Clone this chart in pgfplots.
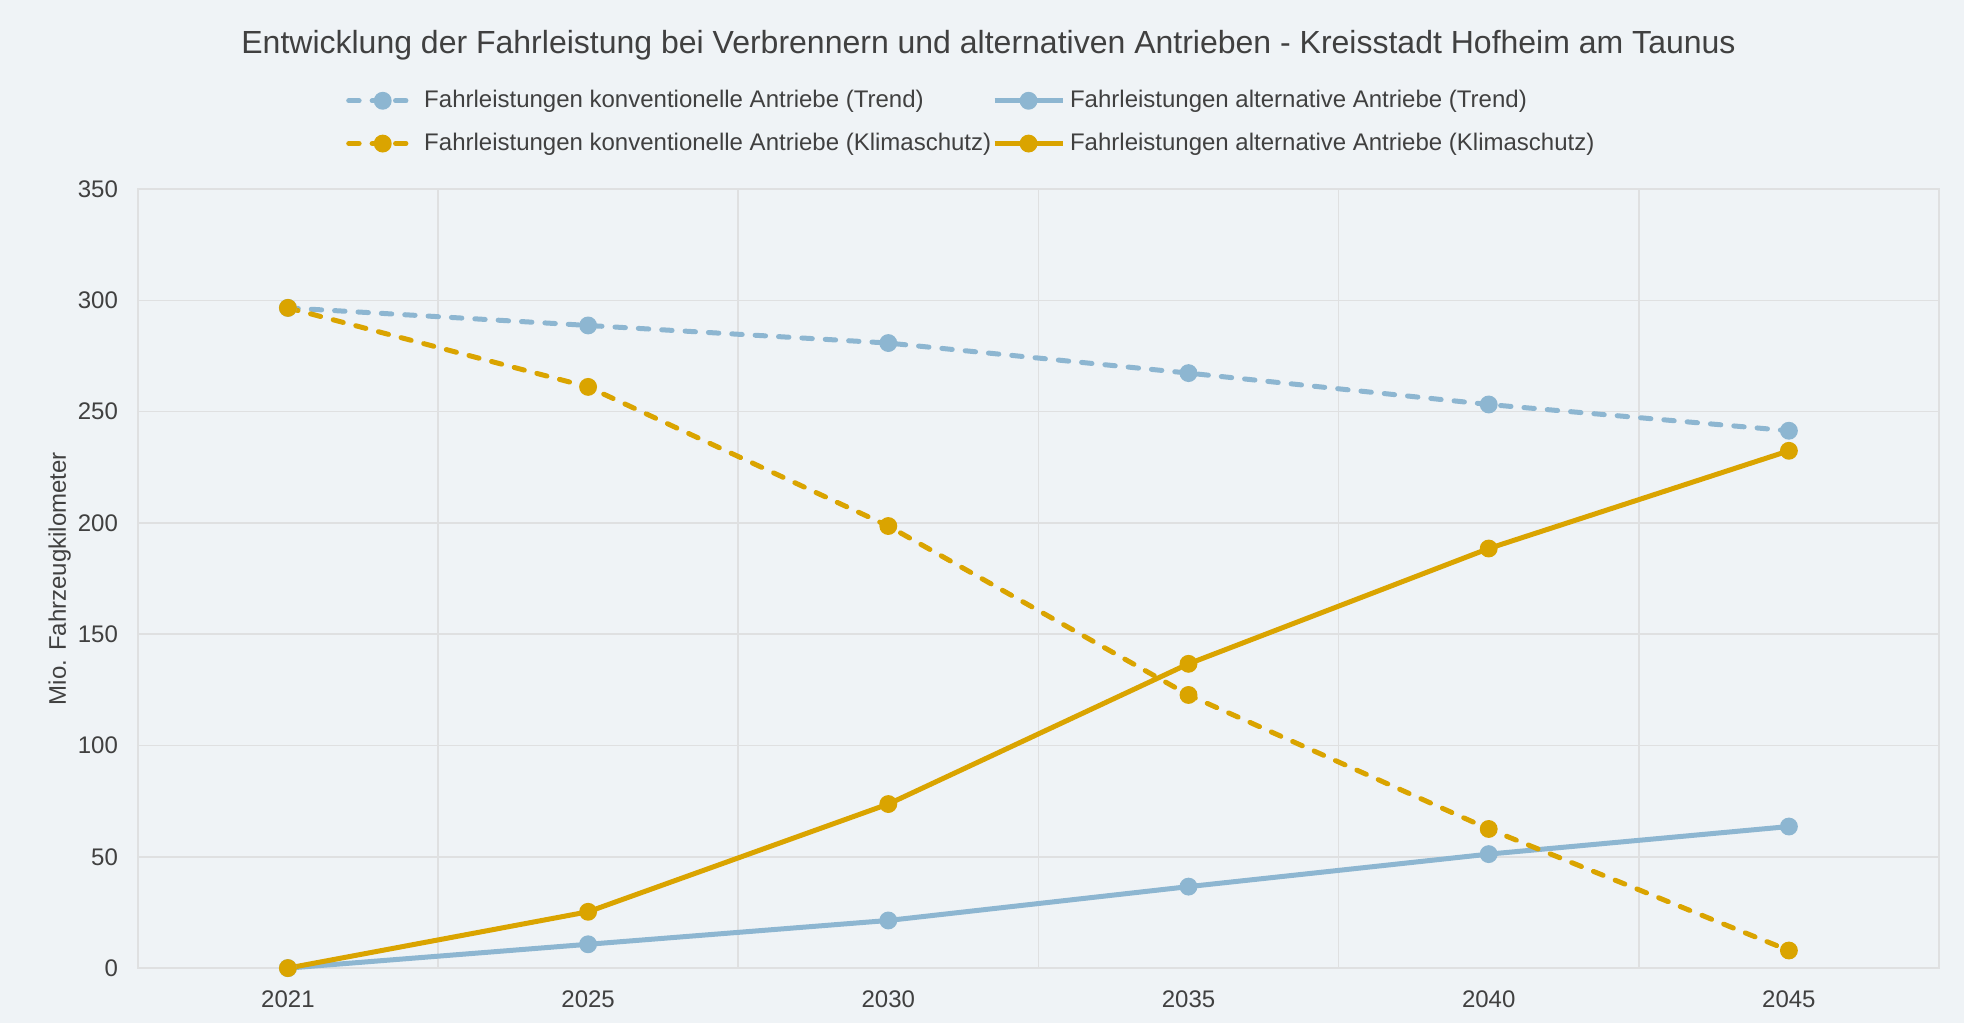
\documentclass[border=0pt]{standalone}
\usepackage{pgfplots}
\pgfplotsset{compat=1.18}
\usepackage{fontspec}
\setmainfont{Liberation Sans}
\definecolor{bg}{HTML}{EFF3F6}
\definecolor{gridc}{HTML}{DFE0E1}
\definecolor{txt}{HTML}{404040}
\definecolor{cblue}{HTML}{8DB6D1}
\definecolor{cgold}{HTML}{DAA400}
\begin{document}
\begin{tikzpicture}
\fill[bg] (-68.9pt,-27.5pt) rectangle (913pt,484pt);
\useasboundingbox (-68.9pt,-27.5pt) rectangle (913pt,484pt);
\begin{axis}[
 at={(0,0)}, anchor=south west, scale only axis, width=900.5pt, height=389.5pt,
 xmin=-0.5, xmax=5.5, ymin=0, ymax=350,
 xtick={0,...,5}, xticklabels={2021,2025,2030,2035,2040,2045},
 ytick={0,50,...,350},
 minor xtick={0.5,1.5,2.5,3.5,4.5},
 xminorgrids, ymajorgrids,
 grid style={gridc, line width=0.8pt},
 minor grid style={gridc, line width=0.8pt},
 axis line style={gridc, line width=0.8pt},
 major tick length=0pt, minor tick length=0pt,
 ticklabel style={font=\fontsize{12}{14}\selectfont, text=txt, /pgf/number format/assume math mode=true},
 yticklabel style={xshift=-6.4pt},
 xticklabel style={yshift=-7.7pt},
 ylabel={Mio. Fahrzeugkilometer},
 ylabel style={at={(axis description cs:-0.0434,0.5)}, anchor=center, font=\fontsize{12}{14}\selectfont, text=txt},
 title={Entwicklung der Fahrleistung bei Verbrennern und alternativen Antrieben - Kreisstadt Hofheim am Taunus},
 title style={at={(axis description cs:0.4723,1.1687)}, anchor=center, font=\fontsize{16}{19}\selectfont, text=txt},
 legend columns=2,
 legend style={draw=none, fill=none, at={(axis description cs:0.1155,1.0858)}, anchor=west, inner sep=0pt, font=\fontsize{12}{14}\selectfont, text=txt, row sep=3.2pt, nodes={inner xsep=0pt, inner ysep=4pt}, /tikz/every odd column/.style={column sep=2.5pt}, /tikz/every even column/.style={column sep=0.4pt}},
 legend cell align=left,
 legend image code/.code={\draw[mark repeat=2,mark phase=2] plot coordinates {(0pt,0pt)(17pt,0pt)(34pt,0pt)};},
 every axis plot/.append style={line width=2.5pt, mark=*, mark size=3.2pt},
 clip=false,
]
\addplot[cblue, line cap=round, dash pattern=on 5.2pt off 6.5pt, mark options={solid, fill=cblue}] coordinates {(0,296.6) (1,288.7) (2,280.8) (3,267.3) (4,253.2) (5,241.4)};
\addlegendentry{Fahrleistungen konventionelle Antriebe (Trend)}
\addplot[cblue, mark options={solid, fill=cblue}] coordinates {(0,0) (1,10.7) (2,21.4) (3,36.6) (4,51.2) (5,63.6)};
\addlegendentry{Fahrleistungen alternative Antriebe (Trend)}
\addplot[cgold, line cap=round, dash pattern=on 5.2pt off 6.5pt, mark options={solid, fill=cgold}] coordinates {(0,296.6) (1,261.1) (2,198.6) (3,122.7) (4,62.5) (5,7.9)};
\addlegendentry{Fahrleistungen konventionelle Antriebe (Klimaschutz)}
\addplot[cgold, mark options={solid, fill=cgold}] coordinates {(0,0) (1,25.3) (2,73.7) (3,136.7) (4,188.5) (5,232.4)};
\addlegendentry{Fahrleistungen alternative Antriebe (Klimaschutz)}
\end{axis}
\end{tikzpicture}
\end{document}
